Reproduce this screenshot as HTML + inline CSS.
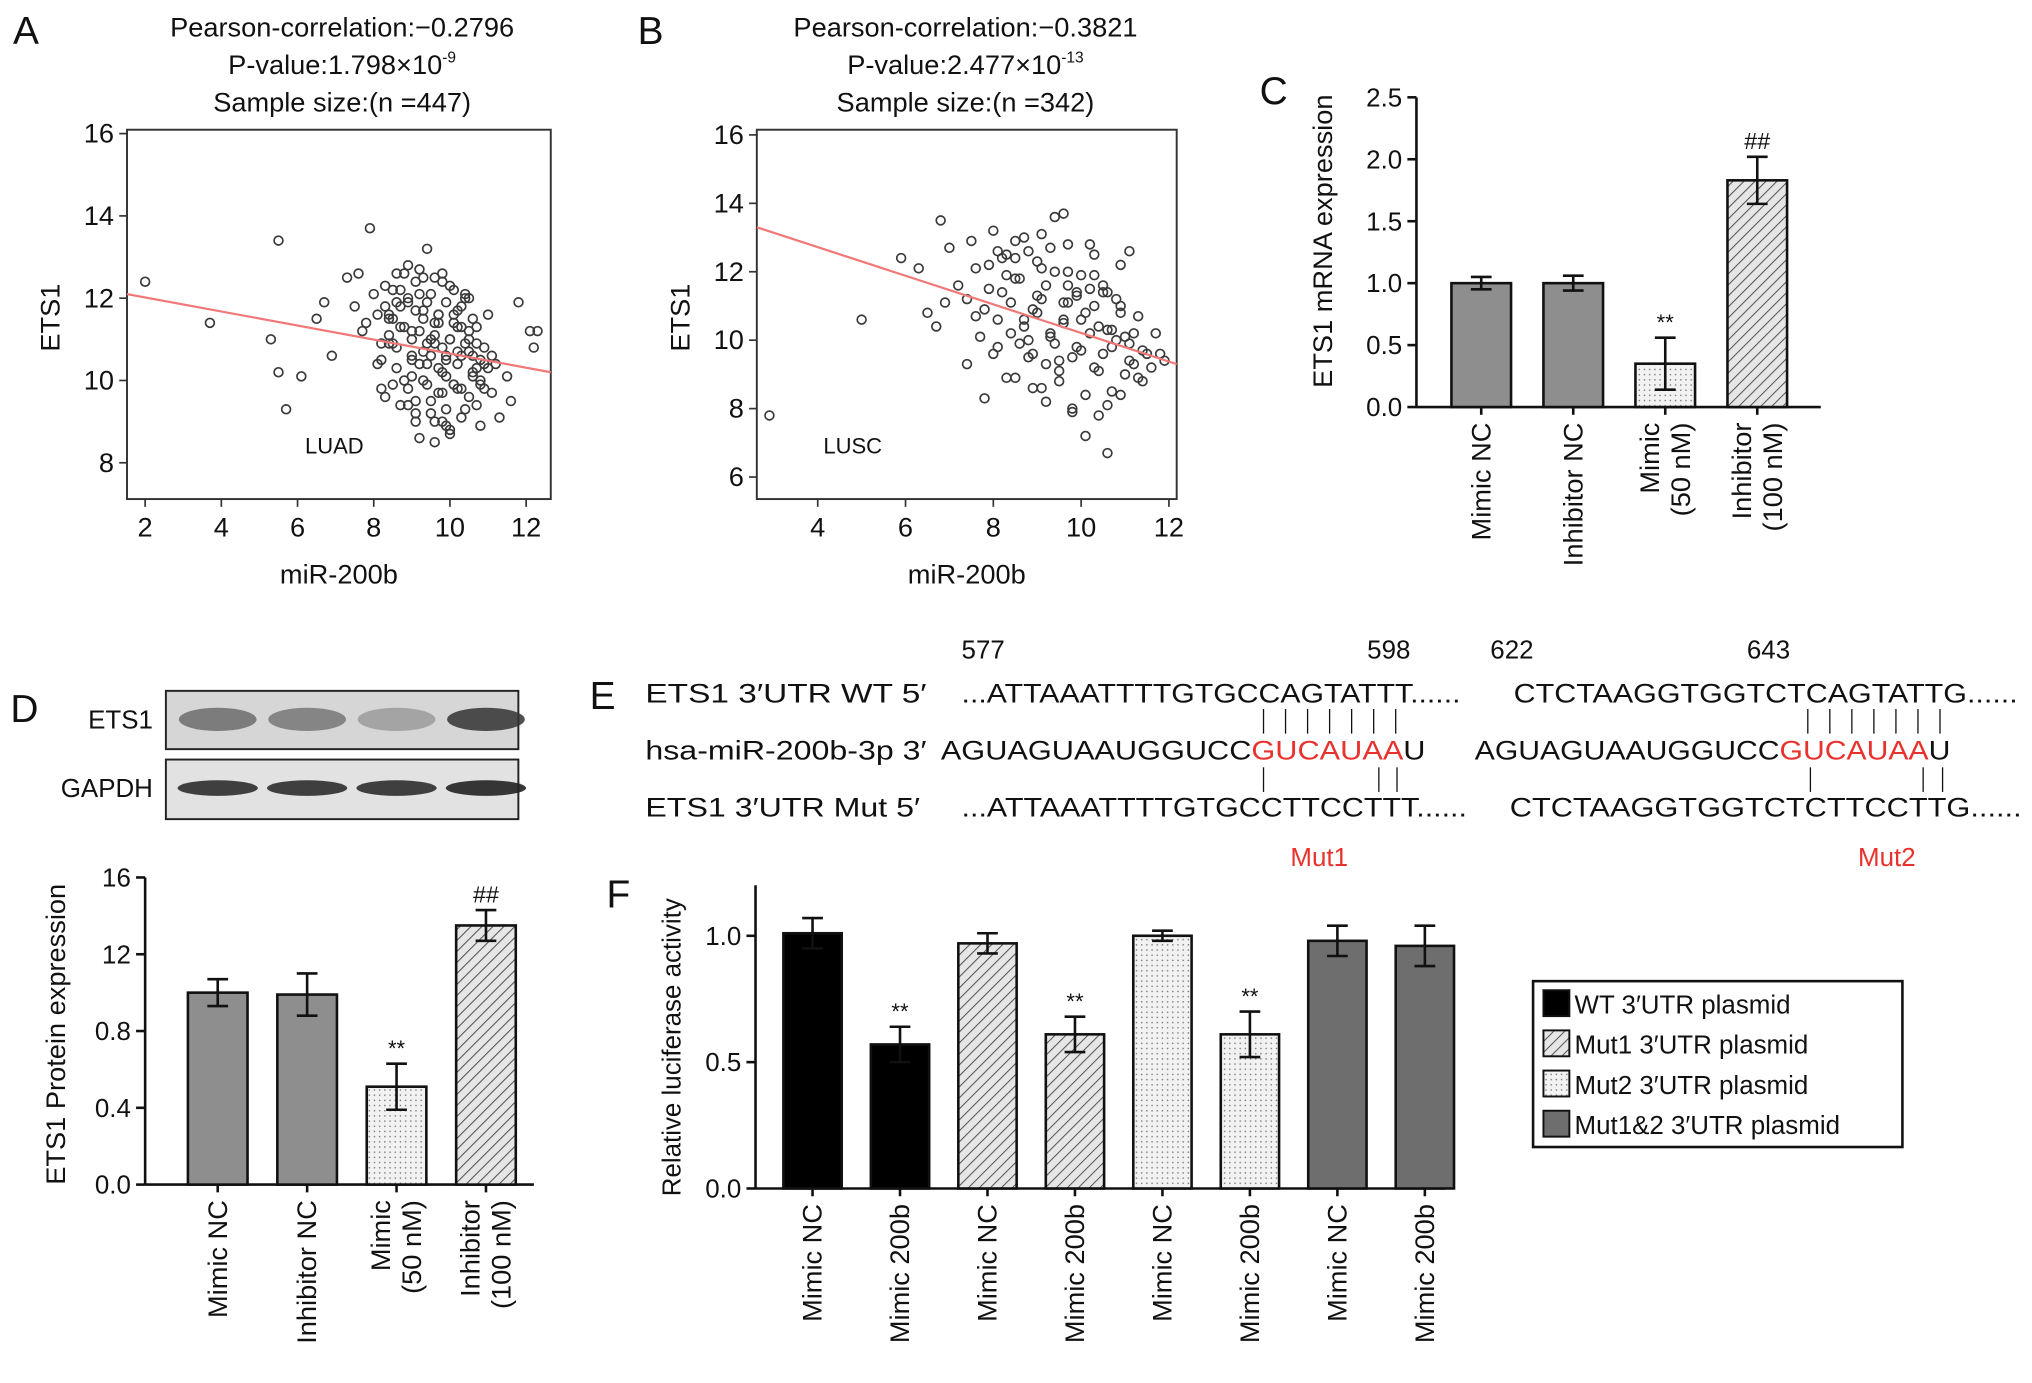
<!DOCTYPE html>
<html><head><meta charset="utf-8">
<style>
html,body{margin:0;padding:0;background:#fff;}
svg{display:block;font-family:"Liberation Sans",Arial,sans-serif;}
</style></head>
<body>
<svg id="fig" width="2032" height="1383" viewBox="0 0 1568 1067" xmlns="http://www.w3.org/2000/svg">
<defs>
<pattern id="hatch" width="6" height="6" patternUnits="userSpaceOnUse" patternTransform="rotate(45)">
<rect width="6" height="6" fill="#e6e6e6"/><line x1="0" y1="0" x2="0" y2="6" stroke="#555" stroke-width="1.6"/></pattern>
<pattern id="dots" width="4" height="4" patternUnits="userSpaceOnUse">
<rect width="4" height="4" fill="#f2f2f2"/><circle cx="1" cy="1" r="0.6" fill="#777"/></pattern>
</defs>
<g id="root"></g>
</svg>
<script>
// ---- data ----
const scatterA_x=[2,3.7,5.5,5.3,5.5,5.7,6.1,6.5,6.7,7.9,6.9,7.3,7.6,7.7,8,8.1,8.2,8.3,8.4,8.5,8.6,8.7,8.8,8.9,9,9.1,9.2,9.3,9.4,9.5,9.6,9.7,9.8,9.9,10,10.1,10.2,10.3,10.4,10.5,10.6,10.7,10.8,10.9,11,11.1,11.2,11.5,11.8,12.1,12.2,8.1,8.4,8.7,9.0,9.3,9.6,9.9,10.2,10.5,10.8,8.3,8.9,9.5,10.1,10.7,9.2,9.8,10.4,8.6,9.4,10,10.6,11.3,7.8,8.5,9.1,9.7,10.3,9.9,10.9,7.5,8.2,9.6,11.6,12.3];
const scatterA_y=[12.4,11.4,13.4,11,10.2,9.3,10.1,11.5,11.9,13.7,10.6,12.5,12.6,11.2,12.1,10.4,9.8,12.3,11.5,10.9,12.6,11.8,10,12.8,11.2,9.5,12.1,10.7,11.9,9.2,11.4,10.3,12.4,8.9,11,9.9,11.7,10.6,9.3,12,10.2,11.3,8.9,10.8,11.6,9.7,10.4,10.1,11.9,11.2,10.8,11.6,10.9,11.3,10.5,12.5,10.9,10.1,11.3,10.7,9.9,9.6,9.4,11,12.2,10.3,8.6,9.7,12.1,11.9,13.2,8.7,11.5,9.1,11.4,12.2,9.0,11.6,9.8,10.6,10.4,11.8,10.9,8.5,9.5,11.2];
const scatterA_x2=[8.3,8.5,8.7,8.9,9.1,9.3,9.5,9.7,9.9,10.1,10.3,10.5,10.7,8.4,8.6,8.8,9.0,9.2,9.4,9.6,9.8,10.0,10.2,10.4,10.6,10.8,8.2,8.6,9.0,9.4,9.8,10.2,10.6,11.0,8.5,8.9,9.3,9.7,10.1,10.5,10.9,8.7,9.1,9.5,9.9,10.3,10.7,8.8,9.2,9.6,10.0,10.4,9.0,9.4,9.8,10.2,9.3,9.7,10.1,9.5,9.9,8.9,9.6,10.3,9.2,10.0,10.8,8.4,9.1,9.8,10.5,11.1];
const scatterA_y2=[11.8,11.5,12.2,11.9,12.4,11.7,12.1,11.6,11.9,11.4,11.8,11.2,10.9,11.1,10.8,11.3,11.0,11.2,10.9,11.1,10.8,11.0,10.7,10.9,10.6,10.5,10.5,10.3,10.6,10.4,10.2,10.4,10.1,10.3,9.9,9.8,10.0,9.7,9.9,9.6,9.8,9.4,9.2,9.5,9.3,9.1,9.4,12.6,12.7,12.5,12.3,12.0,10.1,9.9,9.0,9.8,11.5,11.4,11.6,10.6,10.5,12.0,9.0,11.3,10.4,8.8,10.0,11.6,11.7,12.6,11.0,10.6];
const scatterB_x=[2.9,5,5.9,6.3,6.5,6.7,6.8,6.9,7,7.2,7.4,7.5,7.6,7.8,7.9,8,8.1,8.2,8.3,8.4,8.5,8.6,8.7,8.8,8.9,9,9.1,9.2,9.3,9.4,9.5,9.6,9.7,9.8,9.9,10,10.1,10.2,10.3,10.4,10.5,10.6,10.7,10.8,10.9,11,11.1,11.2,11.3,11.4,11.5,11.7,11.9,8.3,8.7,9.1,9.5,9.9,10.3,10.7,11.1,8.1,8.9,9.7,10.5,7.7,9.3,10.1,10.9,9.6,10.6,8.5];
const scatterB_y=[7.8,10.6,12.4,12.1,10.8,10.4,13.5,11.1,12.7,11.6,9.3,12.9,10.7,8.3,12.2,13.2,9.8,11.4,12.5,10.2,8.9,11.8,13,9.5,10.9,12.3,8.6,11.6,10.2,13.6,9.1,10.6,12,7.9,11.3,9.7,10.8,12.8,9.2,10.4,11.6,6.7,9.8,11.2,8.4,10.1,12.6,9.3,10.7,8.8,9.6,10.2,9.4,11.9,10.6,12.1,9.4,11.4,11.9,10.3,9.9,12.6,9.6,11.1,11.4,10.1,12.7,7.2,11,13.7,8.1,12.4];
const scatterB_x2=[7.6,7.9,8.2,8.5,8.8,9.1,9.4,9.7,10.0,10.3,10.6,10.9,11.2,7.8,8.1,8.4,8.7,9.0,9.3,9.6,9.9,10.2,10.5,10.8,11.1,11.4,8.0,8.6,9.2,9.8,10.4,11.0,8.3,8.9,9.5,10.1,10.7,11.3,8.5,9.1,9.7,10.3,10.9,8.8,9.4,10.0,10.6,9.0,9.6,10.2,11.6,11.8,7.4,9.2,9.8,10.4];
const scatterB_y2=[12.1,11.5,12.4,11.8,12.6,11.2,12.0,11.6,11.9,11.0,11.4,10.8,10.2,10.9,10.6,11.1,10.4,10.8,10.1,10.5,9.8,10.2,9.6,10.0,9.4,9.7,9.6,9.9,9.3,9.5,9.1,9.0,8.9,8.6,8.8,8.4,8.5,8.9,12.9,13.1,12.8,12.5,12.2,10.0,9.9,10.6,10.3,11.3,11.1,11.5,9.2,9.6,11.2,8.2,8.0,7.8];
const catsCD=['Mimic NC','Inhibitor NC','Mimic|(50 nM)','Inhibitor|(100 nM)'];
const valsC=[1.0,1.0,0.35,1.83];
const errC=[0.05,0.06,0.21,0.19];
const markC=['','','**','##'];
const valsD=[1.0,0.99,0.51,1.35];
const errD=[0.07,0.11,0.12,0.08];
const markD=['','','**','##'];
const ticksC=['0.0','0.5','1.0','1.5','2.0','2.5'];
const ticksD=['0.0','0.4','0.8','12','16'];
const catsF=['Mimic NC','Mimic 200b','Mimic NC','Mimic 200b','Mimic NC','Mimic 200b','Mimic NC','Mimic 200b'];
const valsF=[1.01,0.57,0.97,0.61,1.0,0.61,0.98,0.96];
const errF=[0.06,0.07,0.04,0.07,0.02,0.09,0.06,0.08];
const markF=['','**','','**','','**','',''];
const legendF=['WT 3′UTR plasmid','Mut1 3′UTR plasmid','Mut2 3′UTR plasmid','Mut1&2 3′UTR plasmid'];

const NS='http://www.w3.org/2000/svg';
const root=document.getElementById('root');
function el(tag,attrs,parent,text){const e=document.createElementNS(NS,tag);for(const k in attrs)e.setAttribute(k,attrs[k]);if(text!==undefined)e.textContent=text;(parent||root).appendChild(e);return e;}
function txt(x,y,s,size,parent,anchor,fill,rot){const t=el('text',{x:x,y:y,'font-size':size,'text-anchor':anchor||'middle',fill:fill||'#111'},parent,s);if(rot)t.setAttribute('transform','rotate('+rot+' '+x+' '+y+')');return t;}

function scatter(name,box,xs,ys,xDom,yDom,xTicks,yTicks,line,title,cx,label,letter){
 const g=el('g',{},root);
 
 
 const X=v=>box.xa+(v-xDom[0])*(box.xb-box.xa)/(xDom[1]-xDom[0]);
 const Y=v=>box.ya+(v-yDom[0])*(box.yb-box.ya)/(yDom[1]-yDom[0]);
 el('rect',{x:box.x,y:box.y,width:box.w,height:box.h,fill:'none',stroke:'#333','stroke-width':1.5},g);
 xTicks.forEach(t=>{el('line',{x1:X(t),x2:X(t),y1:box.y+box.h,y2:box.y+box.h+6,stroke:'#333','stroke-width':1.3},g);const tl=txt(X(t),box.y+box.h+29,String(t),21,g);});
 yTicks.forEach(t=>{el('line',{x1:box.x,x2:box.x-6,y1:Y(t),y2:Y(t),stroke:'#333','stroke-width':1.3},g);const tl=txt(box.x-10,Y(t)+7,String(t),21,g,'end');});
 const n=Math.min(xs.length,ys.length);
 for(let i=0;i<n;i++){const c=el('circle',{cx:X(xs[i]),cy:Y(ys[i]),r:3.4,fill:'none',stroke:'#3a3a3a','stroke-width':1.3},g);}
 const rl=el('line',{x1:box.x,y1:Y(line[0]),x2:box.x+box.w,y2:Y(line[1]),stroke:'#f07878','stroke-width':1.7},g);
 
 title.forEach((s,i)=>{const t=txt(cx,28+i*29,s[0],21,g);if(s[1]){el('tspan',{'font-size':12,dy:-9},t,s[1]);}});
 const xl=txt(box.x+box.w/2,450,'miR-200b',21,g);
 const yl=txt(box.x-52,245,'ETS1',21,g,'middle','#111',-90);
 const lb=txt(label[1],label[2],label[0],17,g);
 const L=txt(letter[1],letter[2],letter[0],30,g,'start');
}
scatter('scatter-luad',{x:98,y:100,w:327,h:285,xa:112,xb:406,ya:103,yb:357},scatterA_x.concat(scatterA_x2),scatterA_y.concat(scatterA_y2),[2,12],[16,8],[2,4,6,8,10,12],[8,10,12,14,16],[12.1,10.2],
 [['Pearson-correlation:−0.2796'],['P-value:1.798×10','-9'],['Sample size:(n =447)']],264,['LUAD',258,350],['A',10,34]);
scatter('scatter-lusc',{x:584,y:100,w:324,h:285,xa:631,xb:902,ya:104,yb:368},scatterB_x.concat(scatterB_x2),scatterB_y.concat(scatterB_y2),[4,12],[16,6],[4,6,8,10,12],[6,8,10,12,14,16],[13.3,9.3],
 [['Pearson-correlation:−0.3821'],['P-value:2.477×10','-13'],['Sample size:(n =342)']],745,['LUSC',658,350],['B',492,34]);

function bars(name,o){
 const g=el('g',{},root);
 
 
 const Y=v=>o.y0-(v/o.max)*(o.y0-o.ytop);
 el('line',{x1:o.ax,x2:o.ax,y1:o.axTop,y2:o.y0,stroke:'#111','stroke-width':2},g);
 el('line',{x1:o.ax,x2:o.axEnd,y1:o.y0,y2:o.y0,stroke:'#111','stroke-width':2},g);
 o.ticks.forEach((t,i)=>{const v=i*o.max/(o.ticks.length-1);el('line',{x1:o.ax-7,x2:o.ax,y1:Y(v),y2:Y(v),stroke:'#111','stroke-width':2},g);const tl=txt(o.ax-11,Y(v)+7,t,20,g,'end');});
 o.vals.forEach((v,i)=>{const c=o.x0+i*o.step;
  const r=el('rect',{x:c-o.bw/2,y:Y(v),width:o.bw,height:o.y0-Y(v),fill:o.fills[i],stroke:'#111','stroke-width':2},g);
  
  const e=o.err[i];
  const eb=el('path',{d:`M${c},${Y(v-e)}V${Y(v+e)}M${c-8},${Y(v+e)}H${c+8}M${c-8},${Y(v-e)}H${c+8}`,stroke:'#111','stroke-width':2,fill:'none'},g);
  
  if(o.marks[i]){const m=txt(c,Y(v+e)-6,o.marks[i],o.marks[i]=='##'?18:17,g);}
  el('line',{x1:c,x2:c,y1:o.y0,y2:o.y0+6,stroke:'#111','stroke-width':2},g);
  const parts=o.cats[i].split('|');
  parts.forEach((p,j)=>{const lx=c+7-(parts.length-1)*12+j*24;const t=txt(lx,o.y0+12,p,21,g,'end','#111',-90);});
 });
 const yl=txt(o.ylx,o.yly,o.ytitle,o.ytsize||21,g,'middle','#111',-90);
 return g;
}
const fillsCD=['#8e8e8e','#8e8e8e','url(#dots)','url(#hatch)'];
bars('bar-chart-c',{ax:1093,axTop:75,axEnd:1405,y0:314,ytop:75,max:2.5,ticks:ticksC,vals:valsC,err:errC,marks:markC,x0:1143,step:71,bw:46,fills:fillsCD,cats:catsCD,ylx:1028,yly:186,ytitle:'ETS1 mRNA expression'});
const lc=txt(972,80,'C',30,root,'start');
bars('bar-chart-d',{ax:112,axTop:677,axEnd:412,y0:914,ytop:677,max:1.6,ticks:ticksD,vals:valsD,err:errD,marks:markD,x0:168,step:69,bw:46,fills:fillsCD,cats:catsCD,ylx:50,yly:798,ytitle:'ETS1 Protein expression'});
const ld=txt(8,557,'D',30,root,'start');

const wb=el('g',{},root);


el('rect',{x:128,y:533,width:272,height:45,fill:'#d6d6d6',stroke:'#222','stroke-width':1.5},wb);
el('rect',{x:128,y:586,width:272,height:46,fill:'#e2e2e2',stroke:'#222','stroke-width':1.5},wb);
const ets=[0.55,0.5,0.3,0.85],gap=[0.85,0.85,0.85,0.9];
ets.forEach((a,i)=>{const c=168+i*69;el('ellipse',{cx:c,cy:555,rx:30,ry:9,fill:'#333',opacity:a},wb);el('ellipse',{cx:c,cy:608,rx:31,ry:6,fill:'#222',opacity:gap[i]},wb);});
txt(118,562,'ETS1',20,wb,'end');txt(118,615,'GAPDH',20,wb,'end');

const E=el('g',{'font-size':20},root);


txt(455,547,'E',30,E,'start');
[['577',742],['598',1055],['622',1150],['643',1348]].forEach(p=>txt(p[1],508,p[0],20,E,'start'));
function seq(x,y,s,len,parent){const t=txt(x,y,s,21,parent,'start');t.setAttribute('textLength',len);t.setAttribute('lengthAdjust','spacingAndGlyphs');return t;}
seq(498,542,'ETS1 3′UTR WT  5′',217,E);
seq(498,586,'hsa-miR-200b-3p  3′',217,E);
seq(498,630,'ETS1 3′UTR Mut  5′',212,E);
seq(742,542,'...ATTAAATTTTGTGCCAGTATTT......',385,E);
seq(1168,542,'CTCTAAGGTGGTCTCAGTATTG......',389,E);
const s1=seq(726,586,'AGUAGUAAUGGUCC',0,E);s1.removeAttribute('textLength');s1.removeAttribute('lengthAdjust');
s1.setAttribute('textLength',374);s1.setAttribute('lengthAdjust','spacingAndGlyphs');s1.textContent='';
el('tspan',{},s1,'AGUAGUAAUGGUCC');el('tspan',{fill:'#e8322d'},s1,'GUCAUAA');el('tspan',{},s1,'U');
const s2=txt(1138,586,'',21,E,'start');s2.setAttribute('textLength',367);s2.setAttribute('lengthAdjust','spacingAndGlyphs');
el('tspan',{},s2,'AGUAGUAAUGGUCC');el('tspan',{fill:'#e8322d'},s2,'GUCAUAA');el('tspan',{},s2,'U');
seq(742,630,'...ATTAAATTTTGTGCCTTCCTTT......',390,E);
seq(1165,630,'CTCTAAGGTGGTCTCTTCCTTG......',395,E);
txt(1018,668,'Mut1',20,E,'middle','#e8322d');txt(1456,668,'Mut2',20,E,'middle','#e8322d');
[975,992,1009,1026,1043,1060,1077].forEach(x=>el('line',{x1:x,x2:x,y1:547,y2:566,stroke:'#111'},E));
[1395,1412,1429,1446,1463,1480,1497].forEach(x=>el('line',{x1:x,x2:x,y1:547,y2:566,stroke:'#111'},E));
[975,1064,1078].forEach(x=>el('line',{x1:x,x2:x,y1:592,y2:611,stroke:'#111'},E));
[1397,1484,1499].forEach(x=>el('line',{x1:x,x2:x,y1:592,y2:611,stroke:'#111'},E));

const fillsF=['#000','#000','url(#hatch)','url(#hatch)','url(#dots)','url(#dots)','#6e6e6e','#6e6e6e'];
bars('bar-chart-f',{ax:583,axTop:683,axEnd:1115,y0:917,ytop:722,max:1.0,ticks:['0.0','0.5','1.0'],vals:valsF,err:errF,marks:markF,x0:627,step:67.5,bw:45,fills:fillsF,cats:catsF,ylx:525,yly:808,ytitle:'Relative luciferase activity',ytsize:20});
const lf=txt(468,700,'F',30,root,'start');
const lg=el('g',{},root);


el('rect',{x:1183,y:757,width:285,height:128,fill:'#fff',stroke:'#111','stroke-width':2},lg);
const lfills=['#000','url(#hatch)','url(#dots)','#6e6e6e'];
legendF.forEach((s,i)=>{const y=764+i*31;const e=el('g',{},lg);el('rect',{x:1191,y:y,width:20,height:20,fill:lfills[i],stroke:'#111','stroke-width':1.5},e);txt(1215,y+18,s,20,e,'start');});
</script>
</body></html>
